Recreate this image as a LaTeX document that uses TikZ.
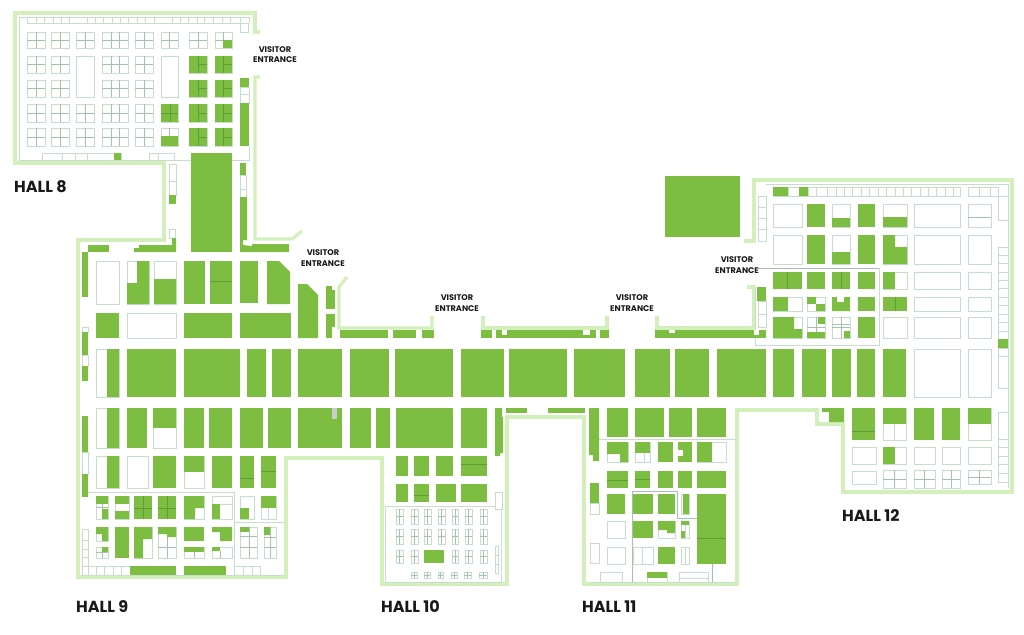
\documentclass[tikz,border=0pt]{standalone}
\usepackage{fontspec}
\setmainfont{Poppins}
\definecolor{standgreen}{HTML}{7DBD42}
\definecolor{wallgreen}{HTML}{D3EFBB}
\definecolor{cellgreen}{HTML}{C6DFCA}
\definecolor{crossgreen}{HTML}{A3C4AB}
\definecolor{seamgreen}{HTML}{5F9E35}
\tikzset{
  stand/.style = {fill = standgreen},
  cell/.style = {draw = cellgreen, line width = 0.55pt},
  crossline/.style = {draw = crossgreen, line width = 0.45pt},
  seam/.style = {draw = seamgreen, line width = 0.35pt},
  wall/.style = {draw = wallgreen, line width = 3.2pt, line join = miter},
  halltitle/.style = {anchor = west, inner sep = 0pt, text = black!90, font = \bfseries\fontsize{16}{16}\selectfont},
  entrance/.style = {align = center, inner sep = 0pt, text = black!90, font = \bfseries\fontsize{8.2}{10.4}\selectfont}
}
\newcommand{\gfill}[4]{\fill [stand] (#1, #2) rectangle (#3, #4);}
\newcommand{\gbox}[4]{\draw [cell] (#1, #2) rectangle (#3, #4);}
\newcommand{\gcross}[4]{
  \draw [cell] (#1, #2) rectangle (#3, #4);
  \draw [crossline] ({(#1 + #3) / 2}, #2) -- ({(#1 + #3) / 2}, #4);
  \draw [crossline] (#1, {(#2 + #4) / 2}) -- (#3, {(#2 + #4) / 2});
}
\begin{document}
\begin{tikzpicture}[x = 1pt, y = -1pt]
  \useasboundingbox (0, 0) rectangle (1024, 634);

  \draw [wall] (260, 32) -- (255, 32) -- (255, 13) -- (15, 13) -- (15, 163) -- (164, 163) -- (164, 240) -- (78, 240)
    -- (78, 577) -- (286, 577) -- (286, 458) -- (382, 458) -- (382, 584) -- (507, 584) -- (507, 417) -- (584, 417)
    -- (584, 584) -- (737, 584) -- (737, 410) -- (817, 410) -- (817, 424) -- (843, 424) -- (843, 492) -- (1012, 492)
    -- (1012, 180) -- (754, 180) -- (754, 241) -- (744, 241);
  \draw [wall] (260, 77) -- (255, 77) -- (255, 239) -- (292, 239) -- (302, 231);
  \draw [wall] (347, 277) -- (339, 287) -- (339, 328) -- (432, 328) -- (432, 316);
  \draw [wall] (483, 316) -- (483, 328) -- (607, 328) -- (607, 316);
  \draw [wall] (657, 316) -- (657, 328) -- (754, 328) -- (754, 287) -- (747, 287);

  \draw [cell] (249, 23) -- (249, 17) -- (19, 17) -- (19, 160) -- (249, 160) -- (249, 146);
  \draw [cell] (88, 492) -- (234, 492) -- (234, 575) -- (82, 575);
  \draw [cell] (234, 522) -- (285, 522);
  \draw [cell] (234, 575) -- (283, 575);
  \draw [cell] (495, 506) -- (385, 506) -- (385, 582) -- (501, 582) -- (501, 509);
  \draw [cell] (599, 439) -- (736, 439);
  \draw [cell] (590, 582) -- (735, 582);
  \draw [crossline] (632, 582) -- (632, 491) -- (677, 491) -- (677, 518) -- (697, 518);
  \draw [crossline] (712, 564) -- (712, 582);
  \draw [cell] (766, 184) -- (1008, 184) -- (1008, 488);
  \draw [crossline] (758, 268) -- (879, 268);
  \draw [cell] (879, 268) -- (879, 345) -- (755, 345) -- (755, 287);

  \foreach \xa/\xb in {27/45, 51/69, 76/94, 135/153, 161/178, 189/207, 215/232} {
    \foreach \ya/\yb in {32/48, 56/73, 80/97, 104/122, 128/146} {
      \gcross{\xa}{\ya}{\xb}{\yb}
    }
  }
  \foreach \ya/\yb in {32/48, 56/73, 80/97, 104/122, 128/146} {
    \gcross{102}{\ya}{128}{\yb}
    \fill [white] (114.6, \ya + 0.4) rectangle (115.4, \yb - 0.4);
    \draw [crossline] (111, \ya) -- (111, \yb);
    \draw [crossline] (119, \ya) -- (119, \yb);
    \draw [crossline] (114, {(\ya + \yb) / 2}) -- (116, {(\ya + \yb) / 2});
  }
  \fill [white] (75, 55) rectangle (95, 98);
  \gbox{76}{56}{94}{97}
  \fill [white] (160, 55) rectangle (179, 98);
  \gbox{161}{56}{178}{97}
  \gfill{161}{104}{178}{122}
  \draw [seam] (170, 104) -- (170, 122);
  \draw [seam] (161, 113) -- (178, 113);
  \gfill{161}{136}{178}{146}
  \foreach \xa/\xb in {189/207, 215/232} {
    \foreach \ya/\yb in {56/73, 80/97, 104/122, 128/146} {
      \gfill{\xa}{\ya}{\xb}{\yb}
      \draw [seam] ({(\xa + \xb) / 2}, \ya) -- ({(\xa + \xb) / 2}, \yb);
      \draw [seam] ({(\xa + \xb) / 2}, {(\ya + \yb) / 2}) -- (\xb, {(\ya + \yb) / 2});
    }
  }
  \gfill{223}{40}{232}{48}

  \draw [cell] (27, 17) rectangle (240, 23);
  \foreach \xa in {36, 44, 53, 61, 69, 87, 95, 103, 112, 120, 128, 137, 145, 154, 172, 180, 188, 197, 204, 213, 222, 230}
    \draw [cell] (\xa, 17) -- (\xa, 23);
  \gbox{240}{23}{248}{32}
  \draw [cell] (42, 153) rectangle (121, 160);
  \draw [cell] (62, 153) -- (62, 160);
  \draw [cell] (75, 153) -- (75, 160);
  \draw [cell] (87, 153) -- (87, 160);
  \gfill{114}{153}{121}{160}
  \draw [cell] (149, 153) rectangle (174, 160);
  \draw [cell] (158, 153) -- (158, 160);
  \gfill{191}{153}{232}{252}
  \gfill{240}{78}{249}{87}
  \gbox{240}{87}{249}{94}
  \gbox{240}{94}{249}{103}
  \gfill{240}{103}{249}{146}

  \gbox{169}{164}{176}{195}
  \draw [cell] (169, 181) -- (176, 181);
  \gfill{169}{195}{176}{204}
  \gbox{169}{229}{175}{238}
  \fill [stand] (134, 252) -- (134, 248) -- (139, 248) -- (139, 245) -- (172, 245) -- (172, 238) -- (176, 238) -- (176, 252) -- cycle;
  \gfill{88}{245}{109}{252}
  \gfill{82}{252}{88}{297}
  \gfill{240}{163}{246}{175}
  \gbox{240}{175}{246}{197}
  \draw [cell] (240, 189) -- (246, 189);
  \fill [stand] (240, 197) -- (247, 197) -- (247, 240) -- (243, 240) -- (243, 245) -- (252, 246) -- (252, 244) -- (289, 244) -- (289, 252) -- (240, 252) -- cycle;

  \gbox{96}{261}{119}{304}
  \gbox{127}{261}{149}{304}
  \fill [stand] (137, 261) -- (149, 261) -- (149, 304) -- (127, 304) -- (127, 283) -- (137, 283) -- cycle;
  \gbox{154}{261}{176}{304}
  \gfill{154}{279}{176}{304}
  \gfill{184}{261}{205}{304}
  \gfill{210}{261}{232}{304}
  \draw [seam] (210, 281) -- (232, 281);
  \gfill{240}{261}{258}{303}
  \fill [stand] (267, 261) -- (279, 261) -- (290, 272) -- (290, 304) -- (267, 304) -- cycle;
  \fill [stand] (298, 284) -- (307, 284) -- (318, 295) -- (318, 338) -- (298, 338) -- cycle;
  \gfill{326}{286}{332}{309}
  \gfill{332}{290}{335}{309}
  \gfill{326}{314}{332}{338}
  \gfill{332}{314}{335}{327}
  \gfill{96}{313}{119}{338}
  \gbox{127}{313}{176}{338}
  \gfill{184}{313}{232}{338}
  \gfill{240}{313}{291}{338}

  \foreach \xa/\xb in {340/388, 393/416, 422/434, 481/492, 496/596, 600/609, 655/766} {
    \gfill{\xa}{330}{\xb}{338}
  }
  \fill [white] (502, 330) rectangle (507, 335);
  \fill [white] (583, 330) rectangle (590, 335);
  \fill [white] (669, 330) rectangle (675, 333);
  \fill [white] (754, 330) rectangle (759, 335);
  \gfill{757}{287}{766}{301}
  \gbox{758}{301}{766}{327}
  \draw [cell] (758, 314) -- (766, 314);

  \gbox{96}{349}{119}{397}
  \gfill{107}{349}{119}{397}
  \foreach \xa/\xb in {127/176, 184/240, 247/266, 272/291, 298/342, 350/389, 395/453, 461/504, 509/567, 574/625, 635/670, 675/709, 717/766, 773/794, 802/826, 832/851, 857/875, 883/906} {
    \gfill{\xa}{349}{\xb}{397}
  }
  \gbox{914}{349}{960}{397}
  \gbox{968}{349}{991}{397}

  \gbox{96}{408}{119}{448}
  \gfill{107}{408}{119}{448}
  \gbox{153}{408}{176}{448}
  \gfill{153}{408}{176}{428}
  \foreach \xa/\xb in {127/147, 184/204, 209/232, 240/263, 268/291, 298/342, 350/371, 376/390, 396/453, 461/487} {
    \gfill{\xa}{408}{\xb}{448}
  }
  \fill [black!20] (332, 408) rectangle (337, 419);
  \fill [stand] (495, 408) -- (502, 408) -- (502, 417) -- (503, 417) -- (503, 453) -- (500, 453) -- (500, 456) -- (495, 456) -- cycle;
  \gfill{506}{408}{527}{413}
  \gfill{548}{408}{585}{413}
  \fill [stand] (589, 408) -- (599, 408) -- (599, 461) -- (593, 461) -- (593, 455) -- (589, 455) -- cycle;
  \foreach \xa/\xb in {607/628, 635/664, 669/692, 697/726} {
    \gfill{\xa}{408}{\xb}{437}
  }

  \gbox{96}{456}{119}{488}
  \gfill{107}{456}{119}{488}
  \gbox{127}{456}{148}{488}
  \gfill{153}{456}{176}{488}
  \gbox{184}{456}{204}{488}
  \gfill{184}{456}{204}{472}
  \foreach \xa/\xb in {212/232, 240/254, 261/276} {
    \gfill{\xa}{456}{\xb}{488}
  }
  \draw [seam] (240, 478) -- (254, 478);
  \draw [seam] (261, 471) -- (276, 471);

  \gcross{96}{496}{108}{519}
  \gfill{96}{496}{108}{504}
  \gfill{102}{509}{108}{519}
  \gbox{115}{496}{129}{519}
  \gfill{115}{496}{129}{504}
  \gfill{115}{511}{129}{519}
  \gfill{134}{496}{152}{519}
  \draw [seam] (143, 496) -- (143, 519);
  \draw [seam] (134, 508) -- (152, 508);
  \gfill{158}{496}{176}{519}
  \draw [seam] (167, 496) -- (167, 519);
  \draw [seam] (158, 508) -- (176, 508);
  \gbox{184}{496}{204}{519}
  \fill [stand] (184, 496) -- (204, 496) -- (204, 508) -- (195, 508) -- (195, 519) -- (184, 519) -- cycle;
  \gbox{212}{496}{232}{519}
  \draw [cell] (212, 504) -- (232, 504);
  \gfill{212}{504}{220}{519}
  \gbox{240}{496}{254}{519}
  \gfill{240}{508}{249}{519}
  \gbox{261}{496}{276}{519}
  \draw [cell] (268, 508) -- (268, 519);
  \gfill{261}{496}{276}{508}

  \gbox{96}{527}{108}{541}
  \fill [stand] (96, 527) -- (108, 527) -- (108, 541) -- (102, 541) -- (102, 534) -- (96, 534) -- cycle;
  \gcross{96}{547}{108}{558}
  \gfill{102}{547}{108}{552}
  \gfill{115}{527}{129}{558}
  \gbox{134}{527}{152}{558}
  \fill [stand] (134, 527) -- (152, 527) -- (152, 539) -- (143, 539) -- (143, 558) -- (134, 558) -- cycle;
  \gbox{158}{527}{176}{558}
  \draw [crossline] (158, 547) -- (176, 547);
  \draw [crossline] (167, 537) -- (167, 558);
  \fill [stand] (158, 527) -- (176, 527) -- (176, 537) -- (167, 537) -- (167, 534) -- (158, 534) -- cycle;
  \gfill{184}{527}{204}{541}
  \gbox{184}{547}{204}{558}
  \draw [crossline] (194, 552) -- (194, 558);
  \gfill{184}{547}{204}{552}
  \fill [stand] (212, 527) -- (232, 527) -- (232, 541) -- (220, 541) -- (220, 532) -- (212, 532) -- cycle;
  \gbox{212}{547}{232}{558}
  \draw [crossline] (220, 551) -- (220, 558);
  \gfill{212}{547}{220}{551}
  \gbox{240}{527}{257}{558}
  \draw [crossline] (249, 527) -- (249, 558);
  \draw [crossline] (240, 536) -- (257, 536);
  \draw [crossline] (240, 547) -- (257, 547);
  \gfill{240}{527}{249}{532}
  \gbox{264}{527}{276}{558}
  \draw [crossline] (270, 527) -- (270, 558);
  \draw [crossline] (264, 537) -- (276, 537);
  \draw [crossline] (264, 547) -- (276, 547);
  \gfill{264}{527}{270}{535}

  \foreach \xa/\xb in {82/88, 88/96, 96/104, 104/113, 113/121, 121/130, 234/243, 243/252, 252/260} {
    \gbox{\xa}{566}{\xb}{575}
  }
  \gfill{130}{566}{176}{575}
  \gfill{184}{566}{226}{575}
  \gbox{82}{529}{88}{566}
  \draw [cell] (82, 540) -- (88, 540);
  \draw [cell] (82, 549) -- (88, 549);
  \draw [cell] (82, 557) -- (88, 557);
  \gbox{82}{327}{88}{332}
  \gfill{82}{332}{88}{355}
  \gbox{82}{355}{88}{366}
  \gfill{82}{366}{88}{381}
  \gfill{82}{416}{88}{452}
  \gbox{82}{452}{88}{474}
  \gfill{82}{474}{88}{497}

  \foreach \xa/\xb in {396/408, 414/429, 436/453, 461/487} {
    \gfill{\xa}{456}{\xb}{476}
  }
  \foreach \xa/\xb in {396/408, 414/429, 436/456, 461/487} {
    \gfill{\xa}{484}{\xb}{502}
  }
  \draw [seam] (461, 464) -- (487, 464);
  \draw [seam] (414, 495) -- (429, 495);
  \gbox{495}{492}{502}{509}
  \foreach \xa/\xb in {396/403, 411/418, 424/431, 438/445, 452/458, 465/472, 480/487} {
    \foreach \ya/\yb in {509/524, 529/544, 550/563} {
      \gcross{\xa}{\ya}{\xb}{\yb}
    }
  }
  \fill [white] (423, 549) rectangle (446, 564);
  \gfill{424}{550}{444}{563}
  \foreach \xa/\xb in {411/417, 424/430, 438/443, 451/457, 464/471, 479/487} {
    \gcross{\xa}{572}{\xb}{578}
  }
  \gbox{495}{546}{498}{573}
  \draw [cell] (495, 555) -- (498, 555);
  \draw [cell] (495, 564) -- (498, 564);

  \gbox{607}{442}{628}{462}
  \fill [stand] (607, 442) -- (628, 442) -- (628, 462) -- (620, 462) -- (620, 454) -- (607, 454) -- cycle;
  \gbox{635}{442}{650}{462}
  \draw [cell] (644, 453) -- (644, 462);
  \gfill{635}{442}{650}{453}
  \gfill{658}{442}{673}{462}
  \gfill{678}{442}{692}{462}
  \fill [white] (678, 450) rectangle (683, 456);
  \gbox{697}{442}{726}{462}
  \gfill{697}{442}{712}{462}
  \foreach \xa/\xb in {607/628, 635/650, 658/673, 678/692, 697/726} {
    \gfill{\xa}{471}{\xb}{488}
  }
  \draw [seam] (607, 480) -- (628, 480);
  \draw [seam] (635, 479) -- (650, 479);
  \gfill{607}{494}{625}{514}
  \gfill{633}{494}{653}{514}
  \gfill{658}{494}{675}{514}
  \gbox{681}{494}{689}{514}
  \gfill{683}{494}{689}{514}
  \gfill{697}{494}{726}{564}
  \draw [seam] (697, 538) -- (726, 538);
  \gbox{607}{521}{625}{538}
  \gfill{633}{521}{653}{538}
  \gbox{658}{521}{675}{538}
  \fill [stand] (658, 521) -- (675, 521) -- (675, 533) -- (667, 533) -- (667, 530) -- (658, 530) -- cycle;
  \gbox{681}{521}{689}{538}
  \draw [cell] (685, 525) -- (685, 538);
  \gfill{681}{521}{689}{525}
  \gfill{681}{531}{685}{538}
  \gbox{607}{547}{625}{564}
  \gbox{633}{547}{653}{564}
  \draw [cell] (642, 547) -- (642, 564);
  \gfill{658}{547}{675}{564}
  \gbox{681}{547}{689}{564}
  \draw [cell] (685, 547) -- (685, 564);
  \gfill{590}{483}{599}{503}
  \gbox{590}{503}{599}{514}
  \gbox{590}{543}{599}{563}
  \gbox{600}{572}{622}{582}
  \gbox{647}{572}{667}{582}
  \gfill{647}{572}{667}{578}
  \gbox{679}{572}{708}{582}
  \draw [cell] (679, 578) -- (708, 578);
  \gfill{665}{176}{740}{237}

  \draw [cell] (773, 187) rectangle (960, 196);
  \foreach \xa in {788, 808, 816, 827, 836, 844, 852, 861, 869, 878, 886, 895, 903, 911, 920, 928, 936, 945, 953}
    \draw [cell] (\xa, 187) -- (\xa, 196);
  \gfill{773}{187}{788}{196}
  \gfill{799}{187}{808}{196}
  \gbox{968}{187}{998}{196}
  \draw [cell] (979, 187) -- (979, 196);
  \draw [cell] (990, 187) -- (990, 196);
  \gbox{758}{196}{766}{241}
  \foreach \ya in {207, 218, 229}
    \draw [cell] (758, \ya) -- (766, \ya);
  \gbox{998}{196}{1008}{220}

  \gbox{998}{247}{1008}{388}
  \foreach \ya in {255, 263, 272, 280, 288, 297, 305, 314, 322, 331, 339, 348, 356}
    \draw [cell] (998, \ya) -- (1008, \ya);
  \gfill{998}{339}{1008}{348}
  \gbox{998}{412}{1008}{482}
  \foreach \ya in {439, 447, 456, 464, 473}
    \draw [cell] (998, \ya) -- (1008, \ya);

  \foreach \ya/\yb in {204/227, 235/264, 272/289, 297/311, 317/338} {
    \foreach \xa/\xb in {914/960, 968/991} {
      \gbox{\xa}{\ya}{\xb}{\yb}
    }
  }
  \draw [crossline] (968, 217) -- (991, 217);

  \gbox{773}{204}{802}{227}
  \gfill{807}{204}{825}{227}
  \gbox{832}{204}{850}{227}
  \gfill{832}{218}{850}{227}
  \gfill{858}{204}{875}{227}
  \gbox{883}{204}{907}{227}
  \gfill{883}{217}{907}{227}

  \gbox{773}{235}{802}{264}
  \gfill{807}{235}{825}{264}
  \gbox{832}{235}{850}{264}
  \gfill{832}{252}{850}{264}
  \gfill{858}{235}{875}{264}
  \gbox{883}{235}{907}{264}
  \fill [stand] (883, 235) -- (895, 235) -- (895, 247) -- (907, 247) -- (907, 264) -- (883, 264) -- cycle;

  \gfill{773}{272}{802}{289}
  \draw [seam] (787, 272) -- (787, 289);
  \gfill{807}{272}{825}{289}
  \gfill{832}{272}{850}{289}
  \draw [seam] (841, 272) -- (841, 289);
  \gfill{858}{272}{875}{289}
  \gbox{883}{272}{907}{289}
  \gfill{883}{272}{895}{289}

  \gbox{773}{297}{802}{311}
  \gfill{773}{297}{788}{311}
  \gbox{807}{297}{825}{311}
  \gfill{807}{297}{816}{304}
  \gfill{816}{304}{825}{311}
  \fill [stand] (832, 297) -- (837, 297) -- (837, 302) -- (844, 302) -- (844, 297) -- (850, 297) -- (850, 311) -- (832, 311) -- cycle;
  \gfill{858}{297}{875}{311}
  \gfill{883}{297}{907}{311}
  \draw [seam] (895, 297) -- (895, 311);

  \gbox{773}{317}{802}{338}
  \fill [stand] (773, 317) -- (794, 317) -- (794, 329) -- (802, 329) -- (802, 338) -- (773, 338) -- cycle;
  \gcross{807}{317}{825}{338}
  \gfill{818}{317}{825}{324}
  \gfill{807}{332}{825}{338}
  \gcross{832}{317}{850}{338}
  \draw [crossline] (832, 324) -- (850, 324);
  \gfill{844}{331}{850}{338}
  \gfill{858}{317}{875}{338}
  \gbox{883}{317}{907}{338}

  \gfill{852}{408}{875}{440}
  \draw [seam] (852, 431) -- (875, 431);
  \gbox{883}{408}{906}{440}
  \draw [cell] (894, 424) -- (894, 440);
  \gfill{883}{408}{906}{424}
  \gfill{914}{408}{934}{440}
  \gfill{942}{408}{960}{440}
  \gbox{968}{408}{991}{440}
  \gfill{968}{408}{991}{424}
  \fill [stand] (822, 408) -- (844, 408) -- (844, 422) -- (829, 422) -- (829, 412) -- (822, 412) -- cycle;

  \gbox{852}{447}{876}{464}
  \gbox{883}{447}{906}{464}
  \gfill{883}{447}{895}{464}
  \gbox{914}{447}{935}{464}
  \gbox{942}{447}{960}{464}
  \gbox{968}{447}{991}{464}
  \gbox{852}{471}{876}{484}
  \gcross{883}{470}{906}{488}
  \gcross{914}{470}{935}{488}
  \gcross{942}{470}{960}{488}
  \gcross{968}{470}{991}{484}

  \node [halltitle] (hall8) at (14, 187) {HALL 8};
  \node [halltitle] (hall9) at (76, 607) {HALL 9};
  \node [halltitle] (hall10) at (381, 607) {HALL 10};
  \node [halltitle] (hall11) at (582, 607) {HALL 11};
  \node [halltitle] (hall12) at (842, 516) {HALL 12};
  \node [entrance] (door8) at (275, 54.5) {VISITOR\\ENTRANCE};
  \node [entrance] (door9) at (323, 258) {VISITOR\\ENTRANCE};
  \node [entrance] (door10) at (457, 303) {VISITOR\\ENTRANCE};
  \node [entrance] (door11) at (632, 303) {VISITOR\\ENTRANCE};
  \node [entrance] (door12) at (737, 265) {VISITOR\\ENTRANCE};
\end{tikzpicture}
\end{document}
